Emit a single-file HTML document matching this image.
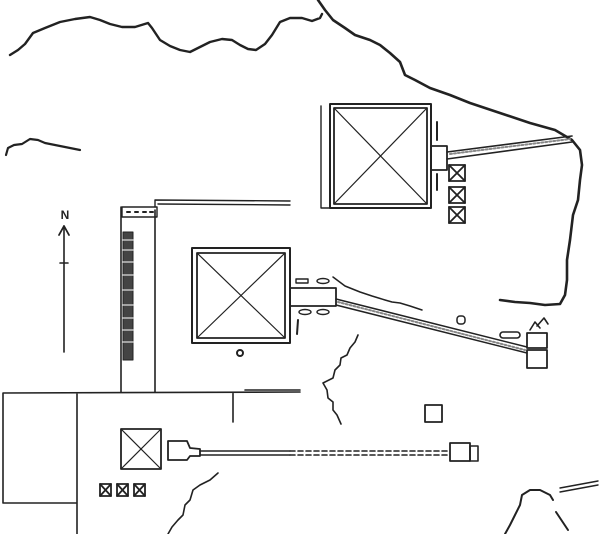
<!DOCTYPE html>
<html><head><meta charset="utf-8"><style>
html,body{margin:0;padding:0;background:#fff;}
svg{display:block;}
</style></head><body>
<svg width="600" height="534" viewBox="0 0 600 534" xmlns="http://www.w3.org/2000/svg" fill="none" stroke="#222" stroke-width="1.6" stroke-linejoin="round" stroke-linecap="round">
<!-- top wavy -->
<path stroke-width="2.4" d="M10,55 L18,50 25,44 33,33 45,28 60,22 75,19 90,17 100,20 110,24 122,27 135,27 148,23 152,28 160,40 170,46 180,50 190,52 200,47 210,42 222,39 232,40 240,45 248,49 256,50 265,44 272,35 280,22 290,18 302,18 312,21 320,18 322,14"/>
<path stroke-width="2.2" d="M6,155 L8,148 14,145 22,144 30,139 38,140 45,143 55,145 65,147 80,150"/>
<!-- east cliff -->
<path stroke-width="2.6" d="M318,0 L325,10 333,20 345,28 355,35 370,40 380,45 390,53 400,62 405,75 415,80 430,88 450,95 470,103 500,113 530,123 555,130 572,140 580,150 582,165 580,180 578,200 573,215 570,240 567,260 567,280 565,295 560,304 545,305 530,303 515,302 500,300"/>
<!-- Khufu -->
<rect x="330" y="104" width="101" height="104" stroke-width="2"/>
<rect x="334" y="108" width="93" height="96" stroke-width="1.8"/>
<path d="M334,108 L427,204 M427,108 L334,204" stroke-width="1.2"/>
<path d="M321,106 L321,208 L330,208" stroke-width="1.4"/>
<rect x="431" y="146" width="16" height="24" stroke-width="1.8"/>
<path d="M437,122 L437,140 M437,174 L437,190" stroke-width="2"/>
<path d="M447,152 L572,136 M447,159 L572,142" stroke-width="1.6"/>
<path d="M450,154 L570,139" stroke="#888" stroke-width="2" stroke-dasharray="2 2"/>
<g stroke-width="1.8">
<rect x="449" y="165" width="16" height="16"/><path d="M449,165 L465,181 M465,165 L449,181"/>
<rect x="449" y="187" width="16" height="16"/><path d="M449,187 L465,203 M465,187 L449,203"/>
<rect x="449" y="207" width="16" height="16"/><path d="M449,207 L465,223 M465,207 L449,223"/>
</g>
<!-- Khafre -->
<rect x="192" y="248" width="98" height="95" stroke-width="2"/>
<rect x="197" y="253" width="88" height="85" stroke-width="1.8"/>
<path d="M197,253 L285,338 M285,253 L197,338" stroke-width="1.2"/>
<rect x="290" y="288" width="46" height="18" stroke-width="1.8"/>
<rect x="296" y="279" width="12" height="4" stroke-width="1.4"/>
<ellipse cx="323" cy="281" rx="6" ry="2.5" stroke-width="1.4"/>
<ellipse cx="305" cy="312" rx="6" ry="2.5" stroke-width="1.4"/>
<ellipse cx="323" cy="312" rx="6" ry="2.5" stroke-width="1.4"/>
<path d="M298,320 L297,334" stroke-width="2"/>
<circle cx="240" cy="353" r="3" stroke-width="2"/>
<path d="M336,299 L527,347 M336,305 L527,353" stroke-width="1.5"/>
<path d="M338,302 L525,350" stroke="#888" stroke-width="2" stroke-dasharray="2 2"/>
<path d="M333,277 L345,286 360,292 372,296 385,300 392,302 400,303 410,306 422,310" stroke-width="1.5"/>
<rect x="457" y="316" width="8" height="8" rx="3" stroke-width="1.5"/>
<rect x="527" y="333" width="20" height="15" stroke-width="1.8"/>
<rect x="527" y="350" width="20" height="18" stroke-width="1.8"/>
<path d="M530,330 L535,322 540,328 M537,326 L544,318 548,324" stroke-width="1.6"/>
<rect x="500" y="332" width="20" height="6" rx="3" stroke-width="1.6"/>
<!-- enclosure left -->
<path d="M121,207 L121,392 M155,210 L155,392" stroke-width="1.6"/>
<path d="M155,200 L155,207 M155,200 L290,201 M158,204 L290,205" stroke-width="1.4"/>
<rect x="122" y="207" width="35" height="10" stroke-width="1.4"/>
<path d="M127,212 h3 M135,212 h3 M143,212 h3 M150,212 h3" stroke-width="2"/>
<rect x="123" y="232" width="10" height="128" fill="#444" stroke-width="1"/>
<path d="M123,240 h10 M123,250 h10 M123,262 h10 M123,275 h10 M123,290 h10 M123,305 h10 M123,318 h10 M123,330 h10 M123,342 h10" stroke="#ddd" stroke-width="1.2"/>
<!-- bottom enclosure -->
<path d="M3,393 L300,392 M3,393 L3,503 L77,503 M77,393 L77,534 M233,393 L233,422 M245,390 L300,390" stroke-width="1.6"/>
<!-- Menkaure -->
<rect x="121" y="429" width="40" height="40" stroke-width="1.8"/>
<path d="M121,429 L161,469 M161,429 L121,469" stroke-width="1.2"/>
<path d="M168,441 L187,441 L190,448 L200,449 L200,456 L190,456 L187,460 L168,460 Z" stroke-width="1.8"/>
<path d="M200,451 L290,451 M200,455 L290,455" stroke-width="1.4"/>
<path d="M290,451 L450,451 M290,455 L450,455" stroke-width="1.6" stroke-dasharray="5 3"/>
<rect x="450" y="443" width="20" height="18" stroke-width="1.8"/>
<rect x="470" y="446" width="8" height="15" stroke-width="1.6"/>
<g stroke-width="1.8">
<rect x="100" y="484" width="11" height="12"/><path d="M100,484 L111,496 M111,484 L100,496"/>
<rect x="117" y="484" width="11" height="12"/><path d="M117,484 L128,496 M128,484 L117,496"/>
<rect x="134" y="484" width="11" height="12"/><path d="M134,484 L145,496 M145,484 L134,496"/>
</g>
<rect x="425" y="405" width="17" height="17" stroke-width="1.8"/>
<!-- cracks -->
<path d="M358,335 L355,342 350,348 347,355 341,358 340,365 335,370 333,378 323,383 327,390 328,398 333,402 333,410 337,415 341,424" stroke-width="1.6"/>
<path d="M218,473 L210,480 200,485 193,490 190,500 185,505 183,515 178,520 172,527 168,534" stroke-width="1.6"/>
<path d="M505,534 L510,525 515,515 520,505 522,495 530,490 540,490 550,495 553,500" stroke-width="2"/>
<path d="M560,488 L598,481 M560,492 L598,485" stroke-width="1.4"/>
<path d="M556,512 L568,530" stroke-width="2"/>
<!-- north arrow -->
<path d="M64,226 L64,352 M60,263 L68,263" stroke-width="1.6"/>
<path d="M59,235 L64,226 L69,235" stroke-width="1.8"/>
<text x="65" y="219" font-family="Liberation Sans, sans-serif" font-size="12" font-weight="bold" fill="#222" stroke="none" text-anchor="middle">N</text>
</svg>
</body></html>
